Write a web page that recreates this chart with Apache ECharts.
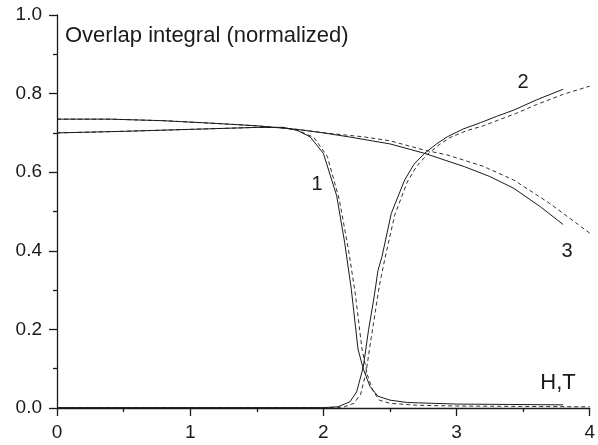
<!DOCTYPE html>
<html>
<head>
<meta charset="utf-8">
<script src="https://cdn.jsdelivr.net/npm/echarts@6/dist/echarts.min.js"></script>
<style>
	html, body { margin: 0; padding: 0; background: #fff; }
	#chart { width: 598px; height: 445px; }
</style>
</head>
<body>
<div id="chart"></div>
<script>
	// curve 1 (drops near H,T = 2.2)
	const c1SolidX = [0, 0.5, 1.0, 1.5, 1.7, 1.8, 1.9, 2.0, 2.1, 2.16, 2.21, 2.26, 2.3, 2.35, 2.41, 2.5, 2.63, 3.0, 3.4, 3.8]
	const c1SolidY = [0.700, 0.704, 0.709, 0.714, 0.714, 0.707, 0.690, 0.648, 0.540, 0.421, 0.302, 0.150, 0.099, 0.055, 0.030, 0.020, 0.014, 0.010, 0.009, 0.008]
	const c1DashX = [0, 0.5, 1.0, 1.5, 1.7, 1.82, 1.93, 2.03, 2.12, 2.19, 2.24, 2.29, 2.33, 2.37, 2.42, 2.5, 2.7, 3.0, 3.5, 4.0]
	const c1DashY = [0.700, 0.704, 0.709, 0.714, 0.714, 0.705, 0.688, 0.640, 0.530, 0.400, 0.290, 0.150, 0.085, 0.045, 0.020, 0.012, 0.007, 0.005, 0.004, 0.003]

	// curve 2 (rises after 2.1)
	const c2SolidX = [0, 1.0, 2.0, 2.11, 2.20, 2.25, 2.30, 2.34, 2.38, 2.41, 2.44, 2.51, 2.61, 2.68, 2.76, 2.85, 2.93, 3.05, 3.18, 3.3, 3.43, 3.6, 3.8]
	const c2SolidY = [0.001, 0.001, 0.001, 0.003, 0.016, 0.041, 0.105, 0.200, 0.280, 0.350, 0.385, 0.495, 0.580, 0.620, 0.648, 0.672, 0.690, 0.710, 0.726, 0.742, 0.758, 0.784, 0.811]
	const c2DashX = [0, 1.0, 2.0, 2.15, 2.23, 2.28, 2.32, 2.36, 2.42, 2.46, 2.535, 2.63, 2.7, 2.78, 2.87, 2.95, 3.07, 3.2, 3.45, 3.6, 3.8, 4.0]
	const c2DashY = [0.001, 0.001, 0.001, 0.002, 0.012, 0.035, 0.090, 0.180, 0.310, 0.377, 0.490, 0.575, 0.615, 0.645, 0.670, 0.688, 0.705, 0.718, 0.750, 0.772, 0.798, 0.819]

	// curve 3 (slow decrease)
	const c3SolidX = [0, 0.4, 0.8, 1.2, 1.5, 1.8, 2.0, 2.19, 2.5, 2.76, 3.06, 3.25, 3.43, 3.63, 3.8]
	const c3SolidY = [0.735, 0.735, 0.731, 0.724, 0.718, 0.709, 0.700, 0.690, 0.672, 0.648, 0.614, 0.589, 0.559, 0.512, 0.467]
	const c3DashX = [0, 0.4, 0.8, 1.2, 1.5, 1.8, 2.04, 2.3, 2.5, 2.76, 2.93, 3.2, 3.43, 3.68, 3.85, 4.0]
	const c3DashY = [0.735, 0.735, 0.731, 0.724, 0.718, 0.709, 0.699, 0.690, 0.680, 0.656, 0.644, 0.615, 0.580, 0.525, 0.483, 0.445]

	const font = 'Liberation Sans, Arial, Helvetica, sans-serif'
	const ink = '#1a1a1a'

	const pairs = (xs, ys) => xs.map((x, i) => [x, ys[i]])

	const line = (xs, ys, dashed) => ({
		type: 'line',
		data: pairs(xs, ys),
		symbol: 'none',
		smooth: false,
		silent: true,
		lineStyle: {
			color: ink,
			width: dashed ? 0.9 : 1,
			type: dashed ? [4, 3] : 'solid'
		}
	})

	const axisCommon = {
		axisLine: { show: true, lineStyle: { color: ink, width: 1.3 } },
		axisTick: { show: true, inside: false, length: 8, lineStyle: { color: ink, width: 1.3 } },
		minorTick: { show: true, splitNumber: 2, length: 4, lineStyle: { color: ink, width: 1.3 } },
		splitLine: { show: false },
		minorSplitLine: { show: false },
		axisLabel: { color: ink, fontSize: 19, fontFamily: font, margin: 15 }
	}

	const chart = echarts.init(document.getElementById('chart'))
	chart.setOption({
		animation: false,
		backgroundColor: '#fff',
		grid: { left: 57, right: 5, top: 15, bottom: 37, containLabel: false },
		xAxis: Object.assign({}, axisCommon, {
			type: 'value', min: 0, max: 4, interval: 1
		}),
		yAxis: Object.assign({}, axisCommon, {
			type: 'value', min: 0, max: 1, interval: 0.2,
			axisLabel: Object.assign({}, axisCommon.axisLabel, {
				margin: 15,
				formatter: v => v.toFixed(1)
			})
		}),
		series: [
			line(c1SolidX, c1SolidY, false),
			line(c1DashX, c1DashY, true),
			line(c2SolidX, c2SolidY, false),
			line(c2DashX, c2DashY, true),
			line(c3SolidX, c3SolidY, false),
			line(c3DashX, c3DashY, true)
		],
		graphic: [
			{ type: 'text', left: 65, top: 25, style: { text: 'Overlap integral (normalized)', font: '22px ' + font, fill: ink } },
			{ type: 'text', x: 317, y: 184, style: { text: '1', font: '20px ' + font, fill: ink, align: 'center', verticalAlign: 'middle' } },
			{ type: 'text', x: 523, y: 82, style: { text: '2', font: '20px ' + font, fill: ink, align: 'center', verticalAlign: 'middle' } },
			{ type: 'text', x: 567, y: 251, style: { text: '3', font: '20px ' + font, fill: ink, align: 'center', verticalAlign: 'middle' } },
			{ type: 'text', x: 558, y: 383, style: { text: 'H,T', font: '22px ' + font, fill: ink, align: 'center', verticalAlign: 'middle' } }
		]
	})
</script>
</body>
</html>
